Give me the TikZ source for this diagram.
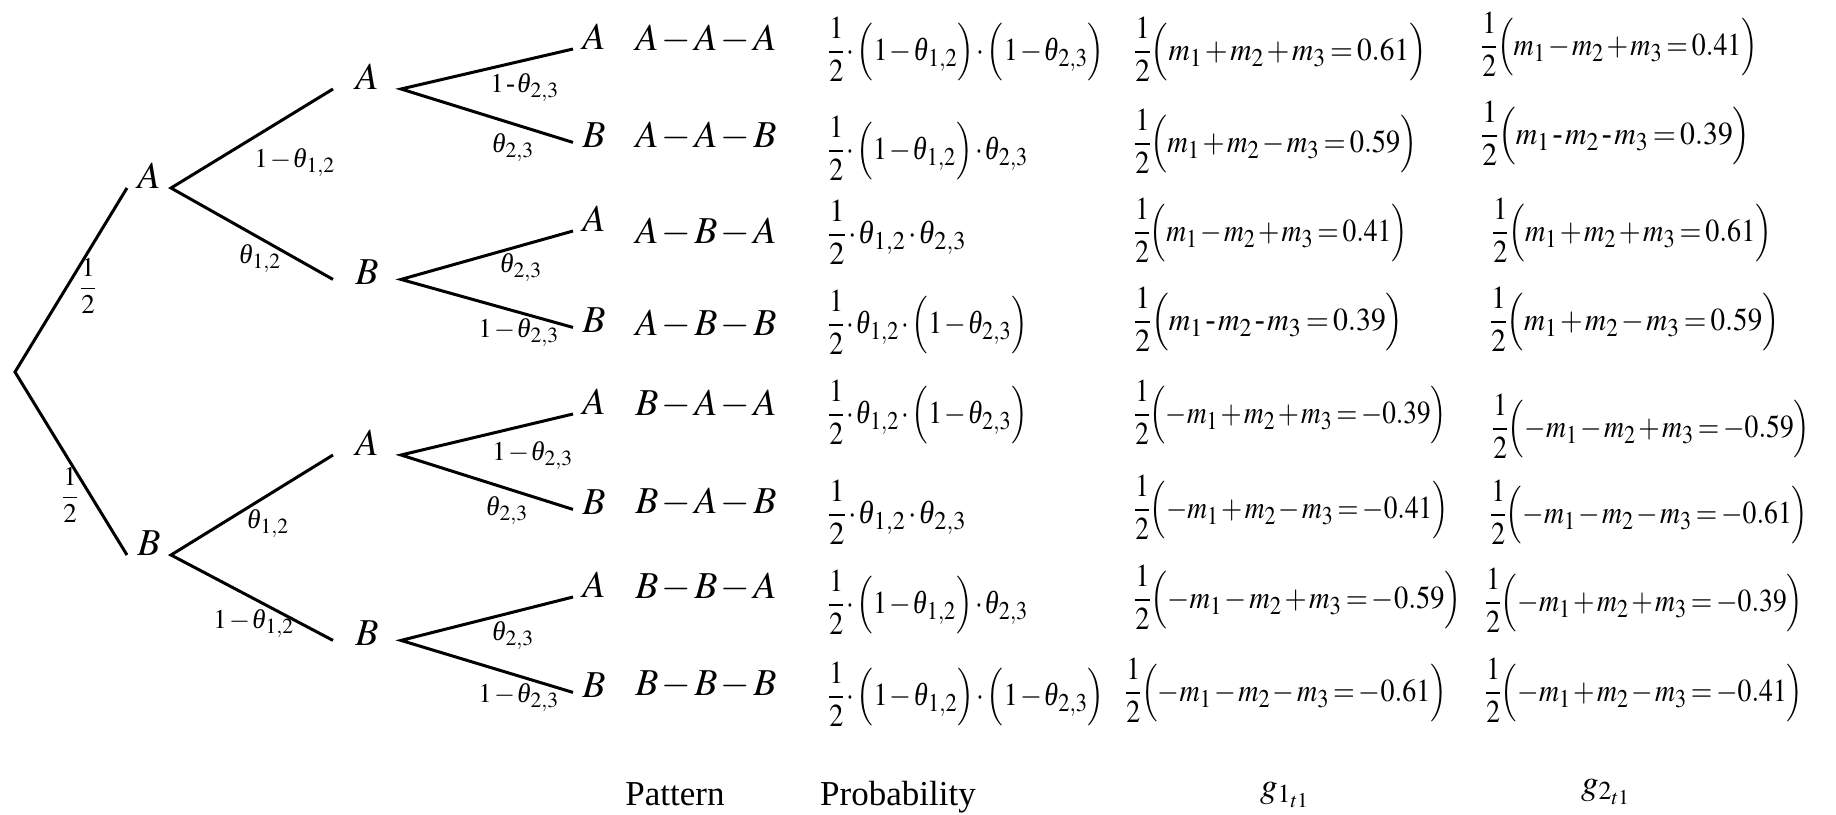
\documentclass[tikz,border=0pt]{standalone}
\usepackage{amsmath}
\usepackage{mathptmx}
\usepackage[no-math]{fontspec}
\setmainfont{Liberation Serif}
\usetikzlibrary{positioning}

\DeclareMathSizes{16}{16}{12.8}{9.6}
\DeclareMathSizes{13.5}{13.5}{10.8}{8}
\newcommand{\half}{\dfrac{1}{2}}
\newcommand{\hy}{\mathbin{\text{-}}}
\newcommand{\tht}{\text{\itshape θ}}
% squeeze a cell horizontally
\newcommand{\sq}[2][.9]{\scalebox{#1}[1]{#2}}
\AtBeginDocument{\medmuskip=1.5mu\thickmuskip=2.5mu\nulldelimiterspace=0.5pt}

\begin{document}
\begin{tikzpicture}[
    x=0.5pt, y=-0.5pt,
    every node/.style={inner sep=0pt},
    letter/.style={font=\fontsize{19}{23}\selectfont, anchor=base west, inner xsep=#1},
    letter/.default=5pt,
    lvlone/.style={letter=5pt},
    lvltwo/.style={letter=11pt},
    leaf/.style={letter=4.5pt},
    wlab/.style={font=\fontsize{13.5}{16}\selectfont, anchor=base west},
    pat/.style={font=\fontsize{19}{23}\selectfont, anchor=base},
    cell/.style={font=\fontsize{16}{19}\selectfont, anchor=base west},
    head/.style={font=\fontsize{17.5}{21}\selectfont, anchor=base},
    branch/.style={line width=1.5pt, line join=miter},
]
    \useasboundingbox (0,0) rectangle (1836,814);

    % --- Column x-coordinates ---
    \def\xL{127}   % level-1 nodes
    \def\xM{333}   % level-2 nodes
    \def\xR{573}   % leaves
    \def\xP{706}   % pattern
    \def\xQ{828}   % probability

    % --- Tree nodes ---
    \coordinate (root) at (15,372);
    \node[lvlone] (a)  at (\xL,188) {$A$};
    \node[lvlone] (b)  at (\xL,555) {$B$};
    \node[lvltwo] (aa) at (\xM,89)  {$A$};
    \node[lvltwo] (ab) at (\xM,284) {$B$};
    \node[lvltwo] (ba) at (\xM,455) {$A$};
    \node[lvltwo] (bb) at (\xM,645) {$B$};

    % --- Leaves ---
    \node[leaf] (aaa) at (\xR,49)  {$A$};
    \node[leaf] (aab) at (\xR,147) {$B$};
    \node[leaf] (aba) at (\xR,231) {$A$};
    \node[leaf] (abb) at (\xR,332) {$B$};
    \node[leaf] (baa) at (\xR,414) {$A$};
    \node[leaf] (bab) at (\xR,514) {$B$};
    \node[leaf] (bba) at (\xR,597) {$A$};
    \node[leaf] (bbb) at (\xR,697) {$B$};

    % --- Branches ---
    \draw[branch] (a.base west) -- (root) -- (b.base west);
    \draw[branch] (aa.base west) -- (a.base east) -- (ab.mid west);
    \draw[branch] (ba.base west) -- (b.base east) -- (bb.mid west);
    \draw[branch] (aaa.base west) -- (aa.base east) -- (aab.mid west);
    \draw[branch] (aba.base west) -- (ab.mid east) -- (abb.mid west);
    \draw[branch] (baa.base west) -- (ba.base east) -- (bab.mid west);
    \draw[branch] (bba.base west) -- (bb.mid east) -- (bbb.mid west);

    % --- Branch labels ---
    \node[wlab, anchor=base] (lab-a) at (88,295)  {$\half$};
    \node[wlab, anchor=base] (lab-b) at (70,504)  {$\half$};
    \node[wlab] (lab-aa)  at (254,167) {$1-\tht_{1,2}$};
    \node[wlab] (lab-ab)  at (239,263) {$\tht_{1,2}$};
    \node[wlab] (lab-ba)  at (247,528) {$\tht_{1,2}$};
    \node[wlab] (lab-bb)  at (213,628) {$1-\tht_{1,2}$};
    \node[wlab] (lab-aaa) at (490,92)  {$1\hy\tht_{2,3}$};
    \node[wlab] (lab-aab) at (492,152) {$\tht_{2,3}$};
    \node[wlab] (lab-aba) at (500,272) {$\tht_{2,3}$};
    \node[wlab] (lab-abb) at (478,337) {$1-\tht_{2,3}$};
    \node[wlab] (lab-baa) at (492,460) {$1-\tht_{2,3}$};
    \node[wlab] (lab-bab) at (486,515) {$\tht_{2,3}$};
    \node[wlab] (lab-bba) at (492,640) {$\tht_{2,3}$};
    \node[wlab] (lab-bbb) at (478,702) {$1-\tht_{2,3}$};

    % --- Pattern column ---
    \node[pat] (p1) at (\xP,50)  {$A-A-A$};
    \node[pat] (p2) at (\xP,147) {$A-A-B$};
    \node[pat] (p3) at (\xP,243) {$A-B-A$};
    \node[pat] (p4) at (\xP,335) {$A-B-B$};
    \node[pat] (p5) at (\xP,415) {$B-A-A$};
    \node[pat] (p6) at (\xP,513) {$B-A-B$};
    \node[pat] (p7) at (\xP,598) {$B-B-A$};
    \node[pat] (p8) at (\xP,695) {$B-B-B$};

    % --- Probability column ---
    \node[cell] (q1) at (\xQ,60)  {\sq[.88]{$\half\cdot\Bigl(1-\tht_{1,2}\Bigr)\cdot\Bigl(1-\tht_{2,3}\Bigr)$}};
    \node[cell] (q2) at (\xQ,159) {\sq[.87]{$\half\cdot\Bigl(1-\tht_{1,2}\Bigr)\cdot\tht_{2,3}$}};
    \node[cell] (q3) at (\xQ,243) {\sq[.95]{$\half\cdot\tht_{1,2}\cdot\tht_{2,3}$}};
    \node[cell] (q4) at (\xQ,333) {\sq[.87]{$\half\cdot\tht_{1,2}\cdot\Bigl(1-\tht_{2,3}\Bigr)$}};
    \node[cell] (q5) at (\xQ,423) {\sq[.87]{$\half\cdot\tht_{1,2}\cdot\Bigl(1-\tht_{2,3}\Bigr)$}};
    \node[cell] (q6) at (\xQ,523) {\sq[.95]{$\half\cdot\tht_{1,2}\cdot\tht_{2,3}$}};
    \node[cell] (q7) at (\xQ,613) {\sq[.87]{$\half\cdot\Bigl(1-\tht_{1,2}\Bigr)\cdot\tht_{2,3}$}};
    \node[cell] (q8) at (\xQ,705) {\sq[.88]{$\half\cdot\Bigl(1-\tht_{1,2}\Bigr)\cdot\Bigl(1-\tht_{2,3}\Bigr)$}};

    % --- g_1 column ---
    \node[cell] (r1) at (1134,60)  {\sq[.92]{$\half\Bigl(m_1+m_2+m_3=0.61\Bigr)$}};
    \node[cell] (r2) at (1134,152) {\sq[.89]{$\half\Bigl(m_1+m_2-m_3=0.59\Bigr)$}};
    \node[cell] (r3) at (1134,241) {\sq[.86]{$\half\Bigl(m_1-m_2+m_3=0.41\Bigr)$}};
    \node[cell] (r4) at (1134,330) {\sq[.93]{$\half\Bigl(m_1\hy m_2\hy m_3=0.39\Bigr)$}};
    \node[cell] (r5) at (1134,423) {\sq[.85]{$\half\Bigl(-m_1+m_2+m_3=-0.39\Bigr)$}};
    \node[cell] (r6) at (1134,518) {\sq[.855]{$\half\Bigl(-m_1+m_2-m_3=-0.41\Bigr)$}};
    \node[cell] (r7) at (1134,608) {\sq[.89]{$\half\Bigl(-m_1-m_2+m_3=-0.59\Bigr)$}};
    \node[cell] (r8) at (1125,701) {\sq[.875]{$\half\Bigl(-m_1-m_2-m_3=-0.61\Bigr)$}};

    % --- g_2 column ---
    \node[cell] (s1) at (1481,55)  {\sq[.87]{$\half\Bigl(m_1-m_2+m_3=0.41\Bigr)$}};
    \node[cell] (s2) at (1481,144) {\sq[.93]{$\half\Bigl(m_1\hy m_2\hy m_3=0.39\Bigr)$}};
    \node[cell] (s3) at (1492,241) {\sq[.88]{$\half\Bigl(m_1+m_2+m_3=0.61\Bigr)$}};
    \node[cell] (s4) at (1490,330) {\sq[.91]{$\half\Bigl(m_1+m_2-m_3=0.59\Bigr)$}};
    \node[cell] (s5) at (1492,437) {\sq[.865]{$\half\Bigl(-m_1-m_2+m_3=-0.59\Bigr)$}};
    \node[cell] (s6) at (1490,523) {\sq[.865]{$\half\Bigl(-m_1-m_2-m_3=-0.61\Bigr)$}};
    \node[cell] (s7) at (1485,611) {\sq[.865]{$\half\Bigl(-m_1+m_2+m_3=-0.39\Bigr)$}};
    \node[cell] (s8) at (1485,701) {\sq[.865]{$\half\Bigl(-m_1+m_2-m_3=-0.41\Bigr)$}};

    % --- Column headings ---
    \node[head] (hpat)  at (675,805)  {Pattern};
    \node[head] (hprob) at (898,805)  {Probability};
    \node[head] (hg1)   at (1285,797) {$g_{1_{t1}}$};
    \node[head] (hg2)   at (1606,794) {$g_{2_{t1}}$};
\end{tikzpicture}
\end{document}
